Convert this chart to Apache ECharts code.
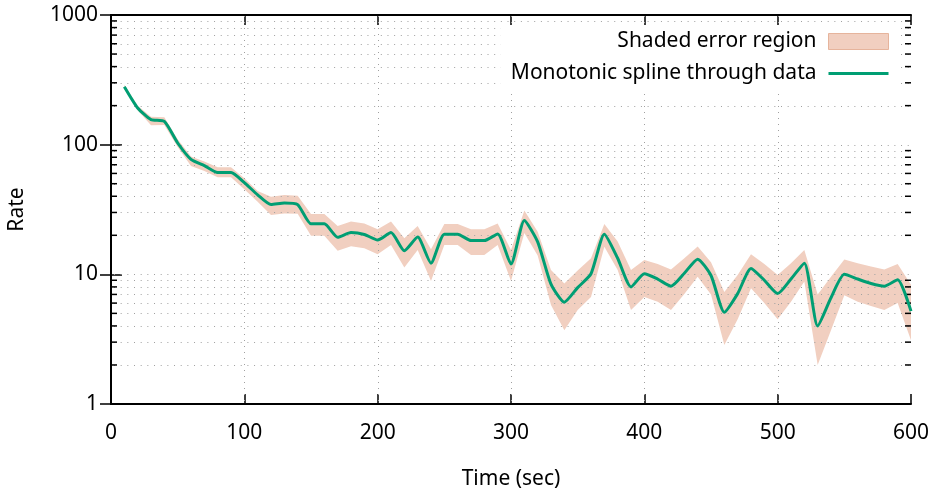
<!DOCTYPE html>
<html>
<head>
<meta charset="utf-8">
<script src="https://cdn.jsdelivr.net/npm/echarts@6/dist/echarts.min.js"></script>
<style>
html,body{margin:0;padding:0;background:#fff;}
#chart{width:936px;height:490px;}
</style>
</head>
<body>
<div id="chart"></div>
<script>
// ---- data ----
const times = [10,20,30,40,50,60,70,80,90,100,110,120,130,140,150,160,170,180,190,200,
  210,220,230,240,250,260,270,280,290,300,310,320,330,340,350,360,370,380,390,400,
  410,420,430,440,450,460,470,480,490,500,510,520,530,540,550,560,570,580,590,600];
const rates = [280,192,156,151,103,77,69,61,61,51,41,34.5,35.5,34.5,24.5,24.5,19.3,21,20.3,18.4,
  21,15.2,19.4,12.2,20.4,20.4,18.2,18.2,20.5,12.0,26,17.8,8.4,6.1,7.9,10.1,20.4,13.3,8.0,10.1,
  9.2,8.1,10.2,13.1,9.8,5.1,7.1,11.1,9.0,7.1,9.2,12.2,4.0,6.6,10.0,9.2,8.5,8.1,9.1,5.2];
const upper = [290,200,164,163,110,81,74,67,67,55,44,39.7,41,40.3,29.2,29.2,23.6,25.5,24.7,22.3,
  25.5,19,23.6,15.6,24.4,24.4,22.3,22.3,24.7,15.4,31,21.3,10.8,8.5,10.7,13.3,24.4,17.9,10.8,12.9,
  12.0,10.9,13.3,16.4,12.4,7.3,9.9,14.3,12.0,9.9,12.2,15.4,7.0,9.6,13.0,12.2,11.5,10.9,12.0,8.3];
const lower = [270,184,141,142,96,68.4,62.7,56,56,45.3,36.3,28.7,29.5,29.3,19.8,19.8,15.2,16.5,15.9,14.3,
  16.8,11.3,15.4,8.9,16.8,16.8,14.1,14.1,16.8,8.9,20.8,14.0,5.8,3.7,5.3,6.7,16.3,10.8,5.3,6.7,
  6.15,5.3,7.05,9.6,7.0,2.85,4.5,7.8,6.0,4.5,6.15,8.8,2.0,3.7,6.9,6.15,5.7,5.3,6.0,3.1];

// ---- axis ticks ----
const xTicks = [0,100,200,300,400,500,600];
const xGridValues = [100,200,300,400,500];
const yMajorTicks = [1,10,100,1000];
const yGridValues = [2,3,4,5,6,7,8,9,10,20,30,40,50,60,70,80,90,100,200,300,400,500,600,700,800,900];
const yMinorTicks = [2,3,4,5,6,7,8,9,20,30,40,50,60,70,80,90,200,300,400,500,600,700,800,900];

const FONT = 'Noto Sans';
const FS = 21;
const BAND = '#f1cfc0';
const GREEN = '#009e73';

const chart = echarts.init(document.getElementById('chart'), null, {renderer:'canvas'});

const xCommon = {
  type:'value', min:xTicks[0], max:xTicks[xTicks.length-1], interval:100,
  axisLine:{show:true, lineStyle:{color:'#000', width:2}},
  axisTick:{show:true, inside:true, length:10, lineStyle:{color:'#000', width:1.5}},
  splitLine:{show:false}
};
const yCommon = {
  type:'log', logBase:10, min:yMajorTicks[0], max:yMajorTicks[yMajorTicks.length-1],
  axisLine:{show:true, lineStyle:{color:'#000', width:2}},
  axisTick:{show:true, inside:true, length:11, lineStyle:{color:'#000', width:1.5}},
  splitLine:{show:false}
};

const option = {
  animation:false,
  backgroundColor:'#fff',
  textStyle:{fontFamily:FONT},
  grid:{left:111, right:25, top:15, bottom:86, show:false, containLabel:false, outerBoundsMode:'none'},
  legend:{
    orient:'vertical', right:35, top:25, align:'right',
    itemWidth:60, itemHeight:16, itemGap:11,
    backgroundColor:'#fff',
    padding:[6,12,6,10],
    textStyle:{fontFamily:FONT, fontSize:FS, color:'#000', padding:[0,7,0,0]},
    data:[
      {name:'Shaded error region', icon:'rect', itemStyle:{color:BAND, borderColor:'#e6b49c', borderWidth:1}},
      {name:'Monotonic spline through data', icon:'path://M0,0 L60,0 L60,3 L0,3 Z', itemStyle:{color:GREEN, borderWidth:0}}
    ]
  },
  xAxis:[
    Object.assign({}, xCommon, {
      position:'bottom',
      name:'Time (sec)', nameLocation:'middle', nameGap:65,
      nameTextStyle:{fontFamily:FONT, fontSize:FS, color:'#000'},
      axisLabel:{show:true, margin:19, fontFamily:FONT, fontSize:FS, color:'#000'}
    }),
    Object.assign({}, xCommon, {position:'top', axisLabel:{show:false}})
  ],
  yAxis:[
    Object.assign({}, yCommon, {
      position:'left',
      name:'Rate', nameLocation:'middle', nameGap:83,
      nameTextStyle:{fontFamily:FONT, fontSize:FS, color:'#000'},
      axisLabel:{show:true, margin:13, fontFamily:FONT, fontSize:FS, color:'#000',
        formatter:function(v){return String(Math.round(v));}}
    }),
    Object.assign({}, yCommon, {position:'right', axisLabel:{show:false}})
  ],
  series:[
    {
      name:'Shaded error region',
      type:'custom',
      xAxisIndex:0, yAxisIndex:0,
      z:1,
      itemStyle:{color:BAND},
      data: times.map((t,i)=>[t, rates[i]]),
      renderItem:function(params, api){
        if (params.dataIndex !== 0) return null;
        const pts = [];
        for (let i=0;i<times.length;i++) pts.push(api.coord([times[i], upper[i]]));
        for (let i=times.length-1;i>=0;i--) pts.push(api.coord([times[i], lower[i]]));
        return {type:'polygon', shape:{points:pts}, style:{fill:BAND, stroke:null}};
      }
    },
    {
      name:'grid',
      type:'custom',
      xAxisIndex:0, yAxisIndex:0,
      z:2, silent:true,
      data:[[0,1]],
      renderItem:function(params, api){
        const children = [];
        const p0 = api.coord([xTicks[0], yMajorTicks[0]]);
        const p1 = api.coord([xTicks[xTicks.length-1], yMajorTicks[yMajorTicks.length-1]]);
        const left = p0[0], right = p1[0], bottom = p0[1], top = p1[1];
        const dot = {stroke:'#a0a0a0', lineWidth:1, lineDash:[1,5.67]};
        yGridValues.forEach(v=>{
          const y = Math.round(api.coord([0, v])[1]) + 0.5;
          children.push({type:'line', shape:{x1:left+3, y1:y, x2:right-1, y2:y}, style:dot});
        });
        xGridValues.forEach(v=>{
          const x = Math.round(api.coord([v, 1])[0]) + 0.5;
          children.push({type:'line', shape:{x1:x, y1:bottom-3, x2:x, y2:top+1}, style:{stroke:'#a0a0a0', lineWidth:1, lineDash:[1,5]}});
        });
        yMinorTicks.forEach(v=>{
          const y = api.coord([0, v])[1];
          children.push({type:'line', shape:{x1:left, y1:y, x2:left+6, y2:y}, style:{stroke:'#000', lineWidth:1.5}});
          children.push({type:'line', shape:{x1:right-6, y1:y, x2:right, y2:y}, style:{stroke:'#000', lineWidth:1.5}});
        });
        return {type:'group', children:children};
      }
    },
    {
      name:'Monotonic spline through data',
      type:'line',
      xAxisIndex:0, yAxisIndex:0,
      z:3,
      data: times.map((t,i)=>[t, rates[i]]),
      smooth:0.2,
      symbol:'none', showSymbol:false,
      itemStyle:{color:GREEN},
      lineStyle:{color:GREEN, width:3}
    }
  ]
};
chart.setOption(option);
</script>
</body>
</html>
